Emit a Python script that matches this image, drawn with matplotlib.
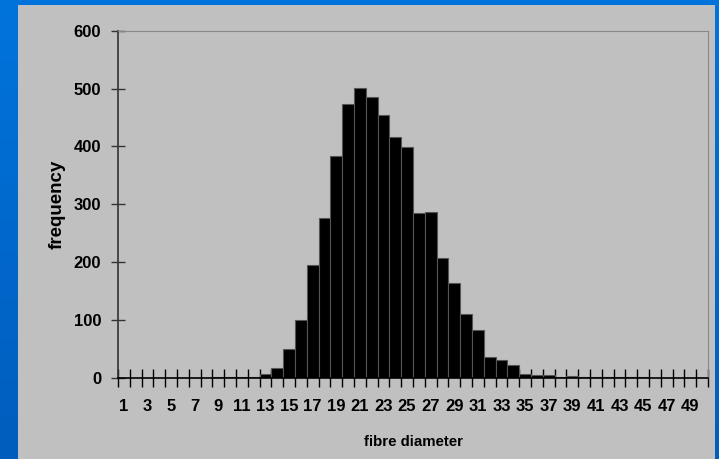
import numpy as np
import matplotlib
matplotlib.use('Agg')
import matplotlib.pyplot as plt
from matplotlib.patches import Rectangle

# fibre diameter classes and counts
diameters = list(range(1, 51))
counts = [0, 0, 0, 0, 0, 0, 0, 0, 2, 2,
          1, 2, 6, 17, 49, 100, 195, 277, 383, 474,
          501, 485, 454, 416, 399, 284, 287, 207, 163, 111,
          82, 36, 31, 22, 6, 4, 4, 1, 3, 1,
          1, 1, 2, 2, 2, 0, 0, 0, 0, 0]
label_ticks = list(range(1, 50, 2))
y_ticks = [0, 100, 200, 300, 400, 500, 600]

fig = plt.figure(figsize=(7.19, 4.59), dpi=100)

# blue slide background, slightly darker towards the bottom
bg = fig.add_axes([0, 0, 1, 1], zorder=-10)
grad = np.linspace(0, 1, 256).reshape(-1, 1)
bg.imshow(grad, aspect='auto', extent=[0, 1, 0, 1],
          cmap=matplotlib.colors.LinearSegmentedColormap.from_list('slide', ['#005dbd', '#0074dc']),
          origin='lower')
bg.set_axis_off()
# grey panel behind the chart
bg.add_patch(Rectangle((18 / 719, 0), (715 - 18) / 719, (459 - 5) / 459,
                       facecolor='#c0c0c0', edgecolor='none', zorder=2))
bg.set_xlim(0, 1)
bg.set_ylim(0, 1)

ax = fig.add_axes([118 / 719, (459 - 377.7) / 459, 590 / 719, 347 / 459])
ax.set_facecolor('#c0c0c0')
ax.bar(diameters, counts, width=1.0, color='black', edgecolor='#555555', linewidth=0.8, zorder=2)

ax.set_xlim(0.5, 50.5)
ax.set_ylim(0, 600)

ax.set_yticks(y_ticks)
ax.set_yticklabels([str(v) for v in y_ticks])
ax.set_xticks(label_ticks)
ax.set_xticklabels([str(v) for v in label_ticks])
ax.set_xticks(np.arange(0.5, 51, 1.0), minor=True)

ax.tick_params(axis='x', which='major', length=0, pad=15)
ax.tick_params(axis='x', which='minor', direction='inout', length=13, width=1.0, color='black')
ax.tick_params(axis='y', which='major', direction='inout', length=10, width=1.0, color='#333333', pad=7)

for lab in ax.get_xticklabels() + ax.get_yticklabels():
    lab.set_fontfamily('Liberation Sans')
    lab.set_fontweight('bold')
    lab.set_fontsize(12)
    lab.set_color('black')

ax.spines['left'].set_color('#333333')
ax.spines['left'].set_linewidth(1.2)
ax.spines['bottom'].set_color('black')
ax.spines['bottom'].set_linewidth(1.2)
ax.spines['bottom'].set_zorder(3)
ax.spines['top'].set_color('#888888')
ax.spines['right'].set_color('#888888')

fig.text(413 / 719, 1 - 442.5 / 459, 'fibre diameter', ha='center', va='center',
         fontfamily='Liberation Sans', fontweight='bold', fontsize=10.8)
fig.text(57 / 719, 1 - 204 / 459, 'frequency', ha='center', va='center', rotation=90,
         fontfamily='Liberation Sans', fontweight='bold', fontsize=13.5)

fig.savefig('out.png', dpi=100)
